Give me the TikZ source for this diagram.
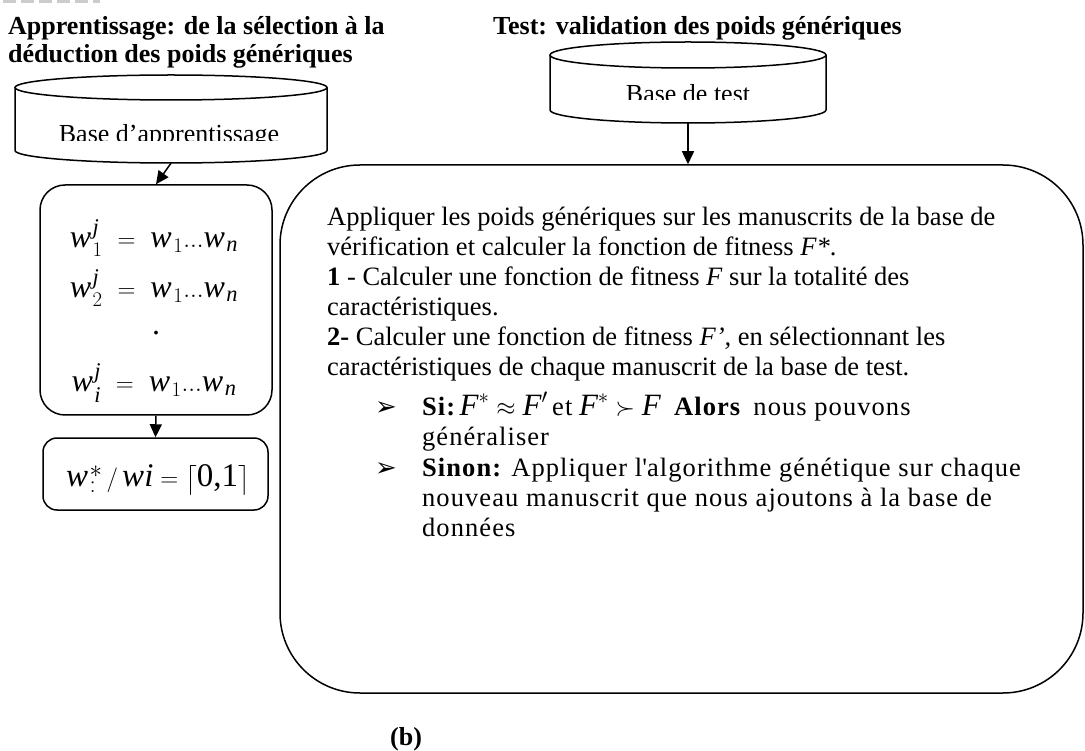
\documentclass[tikz,border=0pt]{standalone}
\usepackage{fontspec}
\usepackage{amsmath}
\setmainfont{Liberation Serif}
\newfontfamily\dejavu{DejaVu Sans}
\newfontfamily\spc[LetterSpace=4]{Liberation Serif}
\usetikzlibrary{arrows.meta}
\newcommand{\iw}{\textit{w}\kern1.5pt}
\newcommand{\iF}{\textit{F}}
\tikzset{
  ln/.style={inner sep=0pt, anchor=base west, font=\fontsize{26.5}{30}\selectfont},
  ttl/.style={inner sep=0pt, anchor=base west, font=\fontsize{26}{28}\selectfont\bfseries},
  lab/.style={inner sep=0pt, anchor=base, font=\fontsize{26}{28}\selectfont},
  rbox/.style={draw, line width=1.5pt},
  arr/.style={line width=1.5pt, -{Triangle[length=13pt,width=12pt]}},
  eq/.style={inner sep=0pt, font=\fontsize{32}{36}\selectfont},
  bul/.style={inner sep=0pt, anchor=base west, font=\fontsize{26}{26}\selectfont\dejavu}
}
\begin{document}
\begin{tikzpicture}[x=1pt,y=1pt]
\useasboundingbox (0,0) rectangle (1085,-751);
% top page artefact
\draw[gray!40, line width=3pt, dash pattern=on 13pt off 5pt] (3,-1.5) -- (100,-1.5);

% titles
\node[ttl] (t1a) at (8,-35) {Apprentissage: de la sélection à la};
\node[ttl] (t1b) at (8,-63) {déduction des poids génériques};
\node[ttl] (t2) at (493,-35) {Test: validation des poids génériques};

% cylinder 1
\draw[line width=1.5pt] (171,-87.5) ellipse [x radius=156, y radius=12.5];
\draw[line width=1.5pt] (15,-87.5) -- (15,-150.5)
  arc[start angle=180, end angle=360, x radius=156, y radius=12.5] -- (327,-87.5);
\begin{scope}
  \clip (20,-101) rectangle (322,-141);
  \node[lab] (lab1) at (169,-143) {Base d’apprentissage};
\end{scope}
\node[inner sep=0pt, minimum width=312pt, minimum height=88pt] (cyl1) at (171,-119) {};

% cylinder 2
\draw[line width=1.5pt] (688,-55) ellipse [x radius=138, y radius=13];
\draw[line width=1.5pt] (550,-55) -- (550,-110)
  arc[start angle=180, end angle=360, x radius=138, y radius=13] -- (826,-55);
\begin{scope}
  \clip (555,-69) rectangle (821,-100);
  \node[lab] (lab2) at (688,-103) {Base de test};
\end{scope}
\node[inner sep=0pt, minimum width=276pt, minimum height=81pt] (cyl2) at (688,-82.5) {};

% left boxes
\node[rbox, rounded corners=25pt, minimum width=232pt, minimum height=230pt] (b1) at (156,-300) {};
\node[rbox, rounded corners=14pt, minimum width=225pt, minimum height=72pt] (b2) at (155.5,-474) {};

\node[eq] (e1) at (154,-238) {$\iw_{1}^{\textit{j}}\ =\ \iw_{1}...\iw_{\textit{n}}$};
\node[eq] (e2) at (154,-288) {$\iw_{2}^{\textit{j}}\ =\ \iw_{1}...\iw_{\textit{n}}$};
\node[eq] (e3) at (156,-333) {.};
\node[eq] (e4) at (154,-383) {$\iw_{\textit{i}}^{\textit{j}}\ =\ \iw_{1}...\iw_{\textit{n}}$};
\node[inner sep=0pt, font=\fontsize{33}{38}\selectfont] (e5) at (158,-480)
  {$\iw_{:}^{*}\,/\,\textit{wi}=\bigl\lceil\text{0,1}\bigr\rceil$};

% big box
\node[rbox, rounded corners=80pt, minimum width=803pt, minimum height=528pt] (big) at (681.5,-429) {};

\node[ln] (p1) at (327,-226) {Appliquer les poids génériques sur les manuscrits de la base de};
\node[ln] (p2) at (327,-256) {vérification et calculer la fonction de fitness \textit{F*}.};
\node[ln] (p3) at (327,-286) {\textbf{1} - Calculer une fonction de fitness \textit{F} sur la totalité des};
\node[ln] (p4) at (327,-316) {caractéristiques.};
\node[ln] (p5) at (327,-346) {\textbf{2-} Calculer une fonction de fitness \textit{F’,} en sélectionnant les};
\node[ln] (p6) at (327,-376) {caractéristiques de chaque manuscrit de la base de test.};

\node[bul] (m1) at (375,-416) {➢};
\node[ln] (s1) at (422,-416) {{\spc\bfseries Si:}\,{\fontsize{31}{34}\selectfont$\iF^{*}\approx\iF^{\prime}$}\,{\spc et}\ {\fontsize{31}{34}\selectfont$\iF^{*}\succ\iF$}\ \ {\spc\bfseries Alors}\ \ {\spc nous pouvons}};
\node[ln] (s2) at (422,-446) {\spc généraliser};
\node[bul] (m2) at (375,-476) {➢};
\node[ln] (s3) at (422,-476) {\spc{\bfseries Sinon:} Appliquer l\textquotesingle algorithme génétique sur chaque};
\node[ln] (s4) at (422,-506) {\spc nouveau manuscrit que nous ajoutons à la base de};
\node[ln] (s5) at (422,-536) {\spc données};

% connectors
\draw[arr] (cyl1.south) -- (b1.north);
\draw[arr] (b1.south) -- (b2.north);
\draw[arr] (cyl2.south) -- (cyl2.south |- big.north);

% caption
\node[ttl] (cap) at (390,-745) {(b)};
\end{tikzpicture}
\end{document}
